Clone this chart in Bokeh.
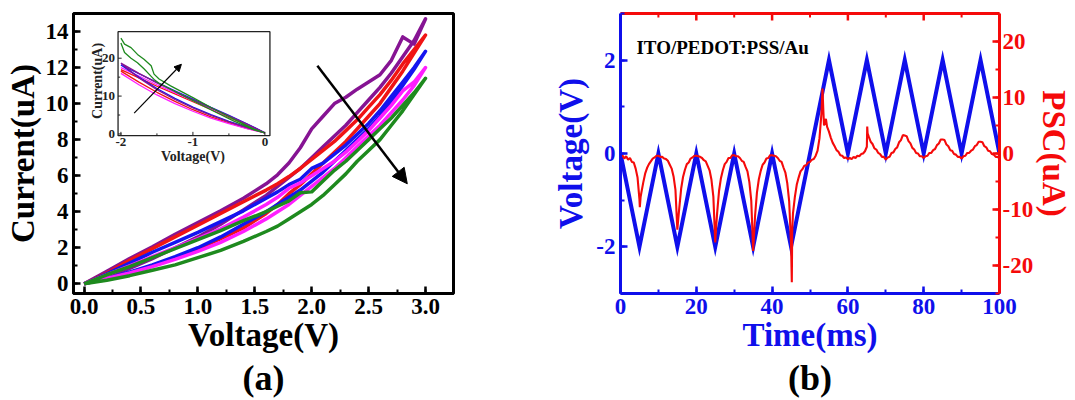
import numpy as np
from bokeh.plotting import figure
from bokeh.models import (Range1d, LinearAxis, SingleIntervalTicker, PrintfTickFormatter,
                          FixedTicker, Arrow, NormalHead, Label, Title)
from bokeh.layouts import row
from bokeh.embed import file_html
from bokeh.resources import INLINE
from bokeh.core.properties import value

FONT = "Liberation Serif"

# ---------------- Panel (a): I-V loops, 0..3 V ----------------
iv_voltage = [0, 0.2, 0.4, 0.6, 0.8, 1.0, 1.2, 1.4, 1.6, 1.7, 1.8, 1.9, 2.0, 2.1, 2.2, 2.3,
              2.4, 2.5, 2.6, 2.7, 2.8, 2.9, 3.0]
purple_up = [0, .7, 1.4, 2.05, 2.75, 3.4, 4.05, 4.75, 5.55, 6.05, 6.7, 7.55, 8.6, 9.3, 10.0, 10.35,
             10.8, 11.2, 11.6, 12.4, 13.7, 13.3, 14.7]
purple_lo = [0, .4, .85, 1.4, 2.0, 2.6, 3.3, 4.1, 4.9, 5.4, 5.9, 6.4, 7.0, 7.6, 8.2, 8.8,
             9.5, 10.2, 10.9, 11.7, 12.6, 13.5, 14.7]
red_up = [0, .6, 1.3, 1.95, 2.6, 3.25, 3.9, 4.55, 5.2, 5.55, 5.95, 6.4, 6.9, 7.4, 7.9, 8.5,
          9.1, 9.8, 10.5, 11.3, 12.2, 13.0, 13.8]
red_lo = [0, .3, .6, 1.0, 1.45, 1.95, 2.5, 3.1, 3.9, 4.4, 5.0, 5.5, 6.1, 6.7, 7.3, 7.9,
          8.6, 9.3, 10.0, 10.9, 11.8, 12.8, 13.8]
blue_up = [0, .55, 1.15, 1.75, 2.3, 2.85, 3.45, 4.05, 4.75, 5.1, 5.5, 5.8, 6.4, 6.7, 7.2, 7.7,
           8.3, 8.9, 9.6, 10.4, 11.2, 12.0, 12.9]
blue_lo = [0, .3, .65, 1.05, 1.5, 2.0, 2.6, 3.3, 4.0, 4.4, 4.8, 5.2, 5.7, 6.2, 6.8, 7.4,
           8.0, 8.6, 9.3, 10.1, 11.0, 11.9, 12.9]
magenta_up = [0, .5, 1.0, 1.5, 2.0, 2.5, 3.05, 3.7, 4.4, 4.8, 5.3, 5.6, 6.0, 6.4, 6.8, 7.3,
              7.9, 8.5, 9.2, 9.9, 10.7, 11.2, 12.0]
magenta_lo = [0, .3, .6, .95, 1.35, 1.8, 2.3, 2.9, 3.6, 4.0, 4.4, 4.9, 5.4, 5.9, 6.4, 7.0,
              7.6, 8.2, 8.8, 9.5, 10.2, 11.0, 12.0]
green_up = [0, .5, .95, 1.45, 1.95, 2.45, 2.95, 3.5, 4.0, 4.3, 4.6, 5.05, 5.1, 5.7, 6.3, 6.8,
            7.4, 8.0, 8.6, 9.2, 9.9, 10.6, 11.4]
green_lo = [0, .2, .45, .75, 1.05, 1.45, 1.85, 2.35, 2.9, 3.2, 3.6, 4.0, 4.4, 4.9, 5.5, 6.1,
            6.8, 7.4, 8.0, 8.8, 9.6, 10.5, 11.4]

# ---------------- Inset: -2..0 V ----------------
inset_voltage = [-2.0, -1.75, -1.5, -1.25, -1.0, -0.75, -0.5, -0.25, 0.0]
in_purple_up = [18.7, 16.0, 13.5, 11.2, 9.0, 6.9, 4.8, 2.6, 0.3]
in_purple_lo = [18.7, 14.8, 11.7, 9.1, 6.9, 4.9, 3.2, 1.7, 0.3]
in_blue_up = [18.2, 15.9, 13.6, 11.4, 9.2, 7.0, 4.9, 2.7, 0.3]
in_blue_lo = [18.2, 15.0, 12.0, 9.4, 7.1, 5.1, 3.3, 1.8, 0.3]
in_red_up = [17.0, 14.8, 12.6, 10.6, 8.5, 6.5, 4.4, 2.4, 0.3]
in_red_lo = [16.6, 13.7, 11.0, 8.6, 6.4, 4.5, 2.9, 1.5, 0.3]
in_magenta_up = [17.5, 15.3, 13.0, 10.9, 8.8, 6.7, 4.6, 2.5, 0.3]
in_magenta_lo = [16.0, 13.0, 10.3, 8.0, 6.0, 4.2, 2.7, 1.4, 0.3]
inset_green_voltage = [-2.0, -1.95, -1.86, -1.77, -1.68, -1.58, -1.54, -1.47, -1.31, -1.0,
                       -0.71, -0.43, -0.15, 0.0]
in_green_up = [25.3, 23.7, 22.8, 21.0, 19.7, 18.0, 15.8, 14.5, 12.7, 9.6, 6.6, 3.9, 1.3, 0.3]
in_green_lo = [24.0, 21.5, 20.0, 18.8, 17.2, 15.2, 14.4, 13.4, 11.8, 8.8, 6.0, 3.4, 1.1, 0.3]
inset_xticks = [-2, -1, 0]
inset_yticks = [0, 10, 20]

# ---------------- Panel (b): voltage and PSC vs time ----------------
volt_time = [0, 5, 10, 15, 20, 25, 30, 35, 40, 45, 55, 60, 65, 70, 75, 80, 85, 90, 95, 100]
volt_value = [0, -2, 0, -2, 0, -2, 0, -2, 0, -2, 2, 0, 2, 0, 2, 0, 2, 0, 2, 0]

psc_time = np.arange(0, 100.5, 0.5)
psc_value = [
    -0.6, -0.3, -0.9, -0.5, -1.1, -0.8, -1.5, -1.6, -2.7, -4.3, -8.2, -7.0, -5.2, -3.6, -2.6, -1.9, -1.4, -0.9, -0.7, -0.4,
    -0.4, -0.6, -0.6, -0.9, -1.0, -1.3, -2.0, -2.7, -4.1, -6.5, -13.6, -9.8, -6.3, -4.2, -2.9, -1.9, -1.6, -0.9, -0.7, -0.4,
    -0.4, -0.5, -0.6, -0.8, -1.2, -1.4, -2.2, -3.0, -4.7, -7.7, -15.9, -10.6, -6.7, -4.4, -3.0, -1.9, -1.5, -0.8, -0.8, -0.3,
    -0.3, -0.5, -0.5, -0.8, -1.3, -1.5, -2.4, -3.2, -5.1, -8.4, -17.4, -11.2, -7.0, -4.6, -3.1, -2.0, -1.6, -0.9, -0.8, -0.3,
    -0.3, -0.4, -0.5, -0.8, -1.3, -1.5, -2.5, -3.4, -5.3, -8.5, -16.2, -10.8, -7.8, -5.6, -4.3, -3.2, -2.8, -2.2, -2.1, -1.6,
    -1.5, -1.1, -1.0, -0.4, 0.5, 2.7, 7.0, 8.0, 5.6, 4.8, 3.9, 2.8, 1.9, 1.3, 0.6, 0.3, -0.3, -0.4, -0.8, -0.7,
    -1.0, -0.8, -1.0, -0.6, -0.8, -0.4, -0.5, -0.1, 0.0, 0.4, 1.2, 3.0, 2.1, 1.7, 0.9, 0.7, 0.1, -0.1, -0.6, -0.6,
    -1.1, -0.7, -0.6, 0.1, 0.2, 0.8, 1.1, 2.0, 2.4, 3.3, 3.2, 3.1, 2.2, 1.8, 1.0, 0.7, 0.1, 0.0, -0.5, -0.5,
    -0.8, -0.5, -0.4, 0.1, 0.1, 0.6, 0.8, 1.5, 1.8, 2.5, 2.5, 2.4, 1.6, 1.3, 0.6, 0.5, -0.1, -0.2, -0.6, -0.6,
    -0.9, -0.5, -0.4, 0.1, 0.1, 0.5, 0.7, 1.3, 1.5, 2.1, 2.1, 2.0, 1.3, 1.1, 0.5, 0.4, -0.1, -0.2, -0.6, -0.6,
    -0.9,
]
# sharp spikes sampled between the regular points
spike_time = [5.1, 5.3, 15.2, 25.2, 35.2, 45.2, 45.3, 53.3, 53.7, 54.2, 65.1, 65.2]
spike_value = [-9.6, -7.8, -12.0, -13.5, -15.0, -23.0, -14.0, 11.6, 5.0, 6.2, 4.8, 3.6]

all_t = np.concatenate([psc_time, spike_time])
all_v = np.concatenate([psc_value, spike_value])
order = np.argsort(all_t, kind="stable")
psc_t = all_t[order]
psc_v = all_v[order]

top_major = [0, 20, 40, 60, 80, 100]
top_minor = [10, 30, 50, 70, 90]

PURPLE = "#861493"
RED = "#F01414"
BLUE = "#1414F0"
MAGENTA = "#FF1EFF"
GREEN = "#1E8A1E"
BBLUE = "#0F0FEB"
BRED = "#F50A0A"


def style_axis(ax, color, tick_size="23px", label_size="33px"):
    ax.axis_line_color = color
    ax.axis_line_width = 3
    ax.major_tick_line_color = color
    ax.major_tick_line_width = 2.5
    ax.minor_tick_line_color = color
    ax.minor_tick_line_width = 2
    ax.major_tick_in = 7
    ax.major_tick_out = 0
    ax.minor_tick_in = 4
    ax.minor_tick_out = 0
    ax.major_label_text_font = FONT
    ax.major_label_text_font_style = "bold"
    ax.major_label_text_font_size = tick_size
    ax.major_label_text_color = color
    ax.axis_label_text_font = FONT
    ax.axis_label_text_font_style = "bold"
    ax.axis_label_text_font_size = label_size
    ax.axis_label_text_color = color


def panel_title(text, offset):
    return Title(text=text, align="center", offset=offset, standoff=0, text_font=FONT,
                 text_font_style="bold", text_font_size="36px", text_color="black")


# ======================= Panel (a) =======================
pa = figure(width=508, height=400, x_range=Range1d(-0.093, 3.246), y_range=Range1d(-0.54, 15.0),
            output_backend="svg", toolbar_location=None,
            min_border_left=73, min_border_right=55, min_border_top=13, min_border_bottom=107)
pa.grid.visible = False
pa.outline_line_color = "black"
pa.outline_line_width = 3

pa.xaxis.ticker = SingleIntervalTicker(interval=0.5, num_minor_ticks=2)
pa.xaxis.formatter = PrintfTickFormatter(format="%.1f")
pa.yaxis.ticker = SingleIntervalTicker(interval=2, num_minor_ticks=2)
pa.yaxis.formatter = PrintfTickFormatter(format="%d")
style_axis(pa.xaxis[0], "black")
style_axis(pa.yaxis[0], "black")
pa.xaxis.axis_label = "Voltage(V)"
pa.yaxis.axis_label = "Current(uA)"
pa.xaxis.major_label_standoff = 5
pa.xaxis.axis_label_standoff = 0
pa.yaxis.major_label_standoff = 5
pa.yaxis.axis_label_standoff = 2

loops = [(purple_up, purple_lo, PURPLE), (red_up, red_lo, RED), (blue_up, blue_lo, BLUE),
         (magenta_up, magenta_lo, MAGENTA), (green_up, green_lo, GREEN)]
for up, lo, col in loops:
    xs = list(iv_voltage) + list(iv_voltage[::-1])
    ys = list(up) + list(lo[::-1])
    pa.line(xs, ys, line_color=col, line_width=3.5, line_join="round")

pa.add_layout(Arrow(end=NormalHead(size=15, fill_color="black", line_color="black"),
                    x_start=2.05, y_start=12.1, x_end=2.84, y_end=5.55,
                    line_color="black", line_width=2.5))

# inset, drawn through its own ranges mapped onto a box inside panel (a)
main_x = (-0.093, 3.246)
main_y = (-0.54, 15.0)
box_x = (0.2985, 1.633)
box_y = (8.22, 13.99)
in_x = (-2.04, 0.07)
in_y = (-0.45, 27.0)


def extend(main, box, inner):
    k = (inner[1] - inner[0]) / (box[1] - box[0])
    return Range1d(inner[0] + (main[0] - box[0]) * k, inner[0] + (main[1] - box[0]) * k)


pa.extra_x_ranges = {"ix": extend(main_x, box_x, in_x)}
pa.extra_y_ranges = {"iy": extend(main_y, box_y, in_y)}
R = dict(x_range_name="ix", y_range_name="iy")

pa.quad(left=[in_x[0]], right=[in_x[1]], bottom=[in_y[0]], top=[in_y[1]],
        fill_color="white", line_color="#222222", line_width=1.3, **R)
in_loops = [(inset_voltage, in_red_up, in_red_lo, RED),
            (inset_voltage, in_magenta_up, in_magenta_lo, MAGENTA),
            (inset_voltage, in_blue_up, in_blue_lo, BLUE),
            (inset_voltage, in_purple_up, in_purple_lo, PURPLE),
            (inset_green_voltage, in_green_up, in_green_lo, GREEN)]
for vx, up, lo, col in in_loops:
    pa.line(list(vx) + list(vx[::-1]), list(up) + list(lo[::-1]), line_color=col, line_width=1.3, **R)

# inset ticks
pa.segment(x0=[-2, -1.5, -1, -0.5, 0], y0=[in_y[0]] * 5, x1=[-2, -1.5, -1, -0.5, 0],
           y1=[in_y[0] + 1.0, in_y[0] + 0.6, in_y[0] + 1.0, in_y[0] + 0.6, in_y[0] + 1.0],
           line_color="#222222", line_width=1, **R)
pa.segment(x0=[in_x[0]] * 5, y0=[0, 5, 10, 15, 20],
           x1=[in_x[0] + 0.05, in_x[0] + 0.03, in_x[0] + 0.05, in_x[0] + 0.03, in_x[0] + 0.05],
           y1=[0, 5, 10, 15, 20], line_color="#222222", line_width=1, **R)
pa.text(x=inset_xticks, y=[in_y[0]] * 3, text=[str(v) for v in inset_xticks], y_offset=2,
        text_align="center", text_baseline="top", text_font=value(FONT), text_font_style="bold",
        text_font_size="13px", text_color="#222222", **R)
pa.text(x=[in_x[0]] * 3, y=inset_yticks, text=[str(v) for v in inset_yticks], x_offset=-3,
        text_align="right", text_baseline="middle", text_font=value(FONT), text_font_style="bold",
        text_font_size="13px", text_color="#222222", **R)
pa.text(x=[-1.0], y=[in_y[0]], text=["Voltage(V)"], y_offset=13, text_align="center",
        text_baseline="top", text_font=value(FONT), text_font_style="bold", text_font_size="14px",
        text_color="#222222", **R)
pa.text(x=[in_x[0]], y=[14.0], text=["Current(uA)"], x_offset=-21, angle=np.pi / 2,
        text_align="center", text_baseline="middle", text_font=value(FONT), text_font_style="bold",
        text_font_size="14px", text_color="#222222", **R)
pa.add_layout(Arrow(end=NormalHead(size=7, fill_color="black", line_color="black"),
                    x_start=-1.816, y_start=5.5, x_end=-1.16, y_end=18.4,
                    line_color="black", line_width=1.2, **R))

pa.add_layout(panel_title("(a)", -5), "below")

# ======================= Panel (b) =======================
pb = figure(width=567, height=400, x_range=Range1d(0, 100), y_range=Range1d(-3, 3),
            output_backend="svg", toolbar_location=None,
            min_border_left=112, min_border_right=70, min_border_top=13, min_border_bottom=103)
pb.grid.visible = False
pb.outline_line_color = None
pb.extra_y_ranges = {"psc": Range1d(-25, 25)}

pb.xaxis.ticker = SingleIntervalTicker(interval=20, num_minor_ticks=2)
pb.xaxis.formatter = PrintfTickFormatter(format="%d")
pb.yaxis.ticker = SingleIntervalTicker(interval=2, num_minor_ticks=2)
pb.yaxis.formatter = PrintfTickFormatter(format="%d")
style_axis(pb.xaxis[0], BBLUE)
style_axis(pb.yaxis[0], BBLUE)
pb.xaxis.axis_label = "Time(ms)"
pb.yaxis.axis_label = "Voltage(V)"
pb.xaxis.major_label_standoff = 5
pb.xaxis.axis_label_standoff = 0
pb.yaxis.major_label_standoff = 5
pb.yaxis.axis_label_standoff = 4

right_ax = LinearAxis(y_range_name="psc", ticker=SingleIntervalTicker(interval=10, num_minor_ticks=2),
                      formatter=PrintfTickFormatter(format="%d"), axis_label="PSC(uA)")
style_axis(right_ax, BRED)
right_ax.major_label_standoff = 3
right_ax.axis_label_standoff = 0
pb.add_layout(right_ax, "right")

# red top frame line (no labels) plus its inward ticks
top_ax = LinearAxis(ticker=FixedTicker(ticks=[]))
style_axis(top_ax, BRED)
pb.add_layout(top_ax, "above")
pb.segment(x0=top_major, y0=[3] * len(top_major), x1=top_major, y1=[3 - 0.15] * len(top_major),
           line_color=BRED, line_width=2.5)
pb.segment(x0=top_minor, y0=[3] * len(top_minor), x1=top_minor, y1=[3 - 0.085] * len(top_minor),
           line_color=BRED, line_width=2)

pb.line(volt_time, volt_value, line_color=BBLUE, line_width=4, line_join="miter")
pb.line(psc_t, psc_v, line_color=BRED, line_width=2.1, y_range_name="psc")

pb.add_layout(Label(x=4.2, y=2.28, text="ITO/PEDOT:PSS/Au", text_baseline="middle",
                    text_font=FONT, text_font_style="bold", text_font_size="19px", text_color="black"))
pb.add_layout(panel_title("(b)", 12), "below")

layout = row(pa, pb)
open("out.html", "w").write(file_html(layout, INLINE))
